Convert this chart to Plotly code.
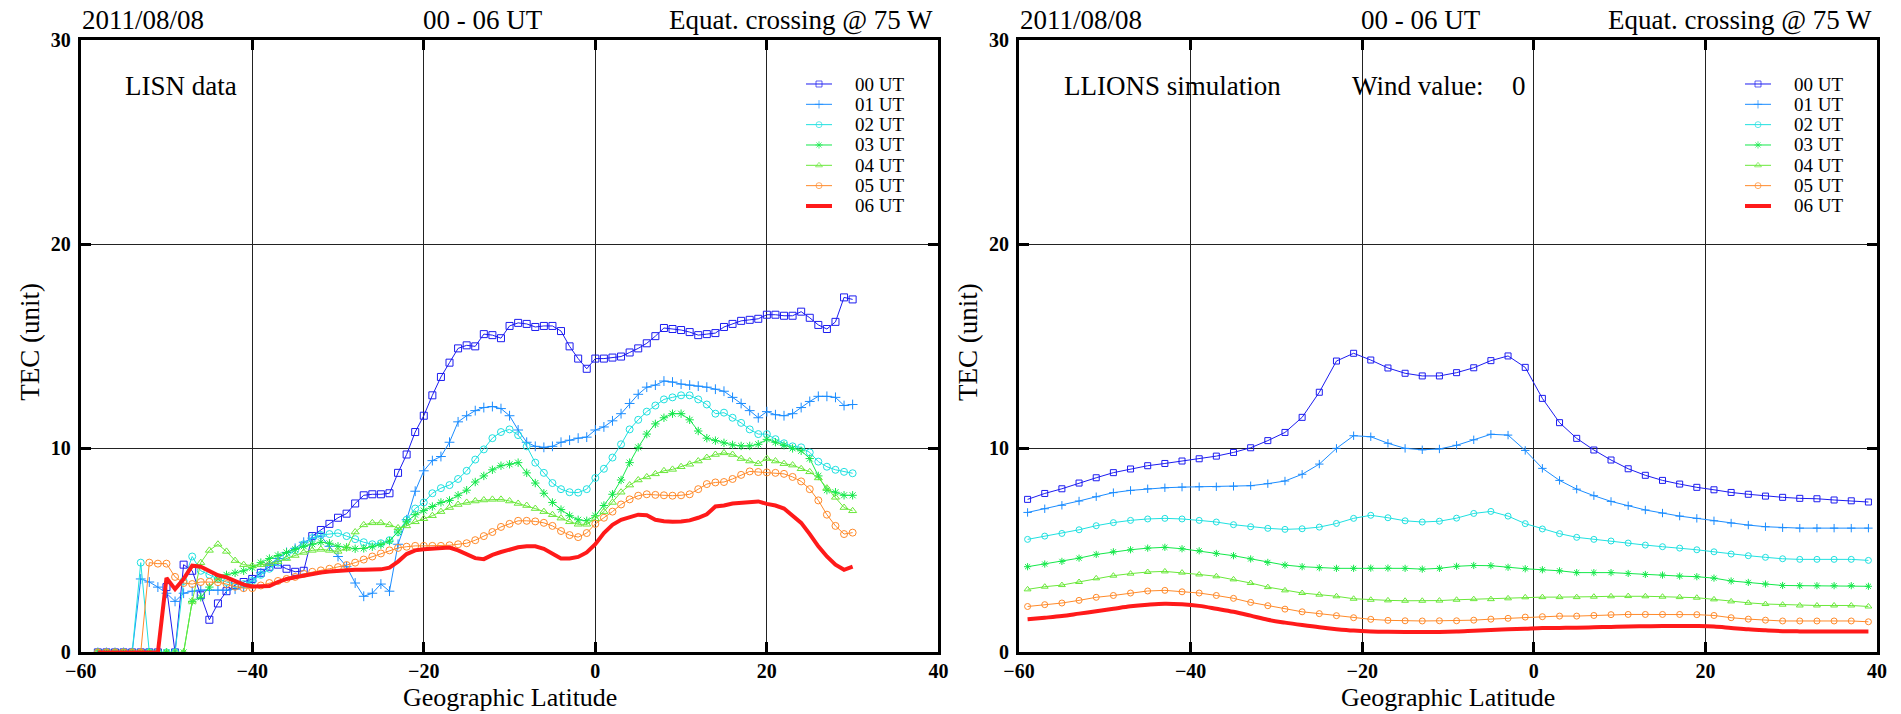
import plotly.graph_objects as go

# ---------------- canvas ----------------
W, H = 1901, 714
FONT = "Liberation Serif"

# ---------------- data: LISN observations (1 deg latitude steps) ----------------
lat_lisn = list(range(-58, 31))

lisn_00 = [0, 0, 0, 0, 0, 0, 0, 0, 3.2, 0,
           4.3, 4.0, 2.8, 1.6, 2.4, 3.0, 3.3, 3.45, 3.6, 3.9,
           4.2, 4.3, 4.1, 3.95, 4.0, 5.7, 6.0, 6.3, 6.6, 6.8,
           7.3, 7.7, 7.75, 7.75, 7.8, 8.8, 9.7, 10.8, 11.6, 12.6,
           13.5, 14.2, 14.9, 15.05, 15.0, 15.6, 15.55, 15.4, 16.0, 16.15,
           16.1, 15.95, 16.0, 16.0, 15.75, 15.0, 14.4, 13.9, 14.4, 14.4,
           14.45, 14.5, 14.7, 14.9, 15.15, 15.5, 15.9, 15.85, 15.8, 15.7,
           15.55, 15.6, 15.65, 15.95, 16.1, 16.25, 16.3, 16.35, 16.55, 16.55,
           16.5, 16.5, 16.7, 16.4, 16.05, 15.85, 16.2, 17.4, 17.3]

lisn_01 = [0, 0, 0, 0, 0, 3.6, 3.45, 3.2, 2.9, 2.5,
           2.9, 3.0, 3.05, 3.05, 3.05, 3.05, 3.1, 3.2, 3.5, 3.9,
           4.3, 4.6, 4.9, 5.1, 5.4, 5.6, 5.7, 5.2, 4.7, 4.2,
           3.4, 2.75, 2.9, 3.35, 3.0, 5.3, 6.5, 7.9, 8.9, 9.4,
           9.6, 10.3, 11.3, 11.6, 11.85, 12.0, 12.05, 11.95, 11.6, 10.9,
           10.3, 10.1, 10.05, 10.1, 10.3, 10.4, 10.5, 10.55, 10.9, 11.05,
           11.35, 11.7, 12.2, 12.65, 13.0, 13.1, 13.3, 13.25, 13.15, 13.1,
           13.05, 13.0, 12.9, 12.8, 12.5, 12.2, 11.85, 11.5, 11.8, 11.65,
           11.6, 11.7, 12.0, 12.3, 12.55, 12.55, 12.5, 12.1, 12.15]

lisn_02 = [0, 0, 0, 0, 0, 4.4, 0, 0, 0, 0,
           3.5, 4.7, 4.0, 3.8, 3.6, 3.45, 3.35, 3.35, 3.5, 3.8,
           4.1, 4.4, 4.7, 5.0, 5.3, 5.6, 5.75, 5.8, 5.85, 5.7,
           5.55, 5.4, 5.3, 5.35, 5.5, 5.9, 6.5, 7.05, 7.35, 7.8,
           8.05, 8.2, 8.5, 8.9, 9.45, 9.95, 10.5, 10.8, 10.93, 10.65,
           10.1, 9.3, 8.8, 8.3, 8.0, 7.85, 7.83, 8.0, 8.55, 9.0,
           9.55, 10.2, 10.93, 11.4, 11.8, 12.1, 12.4, 12.5, 12.6, 12.6,
           12.4, 12.15, 11.7, 11.75, 11.5, 11.25, 10.93, 10.7, 10.7, 10.45,
           10.25, 10.1, 10.05, 9.8, 9.35, 9.1, 8.95, 8.85, 8.78]

lisn_03 = [0, 0, 0, 0, 0, 0, 0, 0, 0, 0,
           0, 2.5, 2.7, 3.2, 3.6, 3.8, 3.9, 4.0, 4.15, 4.4,
           4.6, 4.75, 4.9, 5.05, 5.2, 5.3, 5.4, 5.35, 5.2, 5.15,
           5.08, 5.1, 5.18, 5.28, 5.45, 5.9, 6.4, 6.75, 6.95, 7.15,
           7.35, 7.45, 7.7, 7.95, 8.35, 8.65, 8.95, 9.15, 9.22, 9.3,
           8.8, 8.3, 7.8, 7.35, 7.0, 6.7, 6.5, 6.45, 6.7, 7.2,
           7.75, 8.45, 9.3, 10.05, 10.7, 11.2, 11.5, 11.7, 11.7, 11.4,
           10.85, 10.5, 10.38, 10.27, 10.17, 10.12, 10.12, 10.2, 10.44, 10.3,
           10.15, 10.0, 9.88, 9.5, 8.65, 7.95, 7.85, 7.7, 7.7]

lisn_04 = [0, 0, 0, 0, 0, 0, 0, 0, 0, 0,
           0, 2.5, 4.4, 5.0, 5.3, 4.95, 4.5, 4.3, 4.25, 4.3,
           4.35, 4.45, 4.6, 4.75, 4.9, 5.0, 5.05, 5.0, 4.95, 5.1,
           5.9, 6.25, 6.35, 6.35, 6.25, 6.1, 6.2, 6.4, 6.55, 6.7,
           6.9, 7.1, 7.25, 7.35, 7.42, 7.47, 7.5, 7.5, 7.42, 7.3,
           7.2, 7.05, 6.9, 6.75, 6.58, 6.4, 6.28, 6.28, 6.55, 6.9,
           7.35, 7.85, 8.2, 8.45, 8.6, 8.75, 8.9, 8.97, 9.1, 9.22,
           9.38, 9.55, 9.7, 9.78, 9.7, 9.5, 9.38, 9.25, 9.5, 9.38,
           9.25, 9.18, 9.0, 8.85, 8.55, 8.05, 7.6, 7.1, 6.94]

lisn_05 = [0, 0, 0, 0, 0, 0, 4.4, 4.35, 4.35, 3.7,
           3.4, 3.35, 3.45, 3.46, 3.44, 3.35, 3.22, 3.15, 3.15, 3.28,
           3.4, 3.5, 3.6, 3.7, 3.85, 3.95, 4.02, 4.1, 4.18, 4.28,
           4.4, 4.55, 4.7, 4.85, 5.0, 5.12, 5.18, 5.22, 5.22, 5.22,
           5.22, 5.25, 5.3, 5.35, 5.5, 5.7, 5.9, 6.15, 6.3, 6.45,
           6.45, 6.42, 6.35, 6.2, 5.95, 5.75, 5.65, 5.85, 6.3, 6.6,
           6.9, 7.25, 7.5, 7.68, 7.75, 7.72, 7.7, 7.68, 7.7, 7.75,
           8.0, 8.25, 8.33, 8.35, 8.5, 8.7, 8.87, 8.84, 8.82, 8.8,
           8.75, 8.6, 8.38, 8.0, 7.45, 6.75, 6.2, 5.8, 5.87]

lisn_06 = [0, 0, 0, 0, 0, 0, 0, 0, 3.65, 3.1,
           3.6, 4.25, 4.2, 4.0, 3.78, 3.68, 3.5, 3.32, 3.23, 3.22,
           3.25, 3.45, 3.6, 3.68, 3.77, 3.85, 3.92, 3.96, 4.0, 4.05,
           4.05, 4.05, 4.05, 4.07, 4.15, 4.45, 4.82, 5.0, 5.05, 5.08,
           5.1, 5.14, 5.0, 4.82, 4.62, 4.57, 4.78, 4.92, 5.05, 5.15,
           5.2, 5.2, 5.08, 4.85, 4.6, 4.6, 4.68, 4.9, 5.3, 5.85,
           6.25, 6.5, 6.65, 6.75, 6.72, 6.5, 6.43, 6.4, 6.42, 6.47,
           6.6, 6.77, 7.15, 7.2, 7.3, 7.33, 7.38, 7.4, 7.28, 7.2,
           7.05, 6.7, 6.35, 5.8, 5.2, 4.7, 4.3, 4.05, 4.2]

# ---------------- data: LLIONS simulation (2 deg latitude steps) ----------------
lat_sim = list(range(-59, 40, 2))

sim_00 = [7.50, 7.79, 8.02, 8.30, 8.56, 8.81, 8.99, 9.15, 9.26, 9.38,
          9.49, 9.62, 9.80, 10.03, 10.38, 10.78, 11.52, 12.75, 14.28, 14.66,
          14.33, 13.94, 13.68, 13.55, 13.55, 13.71, 13.95, 14.30, 14.53, 13.97,
          12.45, 11.26, 10.49, 9.92, 9.43, 9.00, 8.68, 8.43, 8.25, 8.09,
          7.97, 7.84, 7.75, 7.66, 7.60, 7.55, 7.53, 7.47, 7.43, 7.37]

sim_01 = [6.86, 7.04, 7.21, 7.42, 7.63, 7.83, 7.94, 8.02, 8.07, 8.10,
          8.12, 8.12, 8.14, 8.17, 8.27, 8.40, 8.73, 9.23, 10.00, 10.62,
          10.57, 10.25, 10.00, 9.93, 9.97, 10.15, 10.42, 10.69, 10.65, 9.90,
          9.02, 8.43, 8.00, 7.68, 7.40, 7.19, 6.98, 6.83, 6.68, 6.57,
          6.45, 6.34, 6.24, 6.16, 6.11, 6.09, 6.09, 6.09, 6.09, 6.09]

sim_02 = [5.54, 5.70, 5.83, 6.01, 6.21, 6.36, 6.47, 6.54, 6.57, 6.54,
          6.47, 6.39, 6.26, 6.16, 6.08, 6.03, 6.06, 6.14, 6.32, 6.57,
          6.72, 6.60, 6.45, 6.39, 6.43, 6.58, 6.81, 6.91, 6.68, 6.31,
          6.05, 5.82, 5.64, 5.54, 5.46, 5.36, 5.26, 5.18, 5.11, 5.03,
          4.93, 4.82, 4.74, 4.66, 4.59, 4.56, 4.56, 4.56, 4.56, 4.51]

sim_03 = [4.20, 4.33, 4.46, 4.62, 4.80, 4.93, 5.03, 5.11, 5.15, 5.08,
          4.98, 4.85, 4.74, 4.58, 4.41, 4.28, 4.20, 4.15, 4.12, 4.12,
          4.13, 4.13, 4.12, 4.08, 4.12, 4.22, 4.26, 4.25, 4.17, 4.10,
          4.05, 4.00, 3.91, 3.91, 3.91, 3.87, 3.82, 3.79, 3.74, 3.71,
          3.64, 3.50, 3.43, 3.35, 3.28, 3.27, 3.27, 3.27, 3.27, 3.24]

sim_04 = [3.09, 3.22, 3.30, 3.45, 3.63, 3.76, 3.86, 3.94, 3.97, 3.91,
          3.82, 3.73, 3.58, 3.40, 3.20, 3.04, 2.91, 2.83, 2.75, 2.63,
          2.58, 2.55, 2.53, 2.53, 2.54, 2.58, 2.61, 2.61, 2.65, 2.70,
          2.71, 2.71, 2.71, 2.73, 2.75, 2.76, 2.75, 2.73, 2.71, 2.68,
          2.60, 2.50, 2.43, 2.37, 2.34, 2.30, 2.30, 2.30, 2.30, 2.25]

sim_05 = [2.25, 2.34, 2.42, 2.55, 2.70, 2.79, 2.91, 3.01, 3.04, 2.97,
          2.91, 2.79, 2.65, 2.45, 2.29, 2.12, 1.99, 1.90, 1.80, 1.70,
          1.62, 1.57, 1.55, 1.54, 1.55, 1.55, 1.58, 1.63, 1.67, 1.73,
          1.75, 1.78, 1.78, 1.81, 1.85, 1.86, 1.86, 1.86, 1.86, 1.85,
          1.81, 1.70, 1.63, 1.58, 1.54, 1.54, 1.54, 1.54, 1.54, 1.50]

sim_06 = [1.63, 1.70, 1.78, 1.90, 2.02, 2.14, 2.26, 2.34, 2.39, 2.36,
          2.28, 2.14, 1.99, 1.80, 1.60, 1.46, 1.34, 1.23, 1.14, 1.07,
          1.03, 1.01, 1.00, 1.00, 1.00, 1.02, 1.06, 1.10, 1.13, 1.16,
          1.19, 1.20, 1.21, 1.23, 1.25, 1.27, 1.28, 1.29, 1.29, 1.29,
          1.27, 1.20, 1.13, 1.08, 1.04, 1.03, 1.03, 1.03, 1.03, 1.03]

# ---------------- labels / ticks ----------------
hours = ["00 UT", "01 UT", "02 UT", "03 UT", "04 UT", "05 UT", "06 UT"]
x_ticks = [-60, -40, -20, 0, 20, 40]
y_ticks = [0, 10, 20, 30]

# ---------------- styling ----------------
colors = ["#1c1cf0", "#1a8cff", "#1fe0e0", "#14e84a", "#6ae83a", "#ff8a2a", "#ff1a1a"]
symbols = ["square-open", "cross-thin-open", "circle-open", "asterisk-open",
           "triangle-up-open", "circle-open", None]


def px_x(p):
    return p / W


def px_y(p):
    return 1 - p / H


# plot frames in pixels
L_X0, L_X1 = 80.7, 938.4
R_X0, R_X1 = 1019.0, 1877.0
Y_TOP, Y_BOT = 40.3, 652.4

fig = go.Figure()

lisn_series = [lisn_00, lisn_01, lisn_02, lisn_03, lisn_04, lisn_05, lisn_06]
sim_series = [sim_00, sim_01, sim_02, sim_03, sim_04, sim_05, sim_06]


def add_series(xs, ys, i, xa, ya, msize, spline=False):
    c = colors[i]
    if symbols[i] is None:
        fig.add_trace(go.Scatter(
            x=xs, y=ys, mode="lines", xaxis=xa, yaxis=ya, showlegend=False,
            line=dict(color=c, width=4, shape="spline" if spline else "linear"),
            hoverinfo="skip"))
    else:
        fig.add_trace(go.Scatter(
            x=xs, y=ys, mode="lines+markers", xaxis=xa, yaxis=ya, showlegend=False,
            line=dict(color=c, width=1),
            marker=dict(symbol=symbols[i], size=msize, color=c,
                        line=dict(color=c, width=1)),
            hoverinfo="skip"))


for i, ys in enumerate(lisn_series):
    add_series(lat_lisn, ys, i, "x", "y", 7)
for i, ys in enumerate(sim_series):
    add_series(lat_sim, ys, i, "x2", "y2", 6, spline=True)

# legend sample glyphs (drawn on small helper axes)
for i in range(len(hours)):
    for xa, ya in (("x3", "y3"), ("x4", "y4")):
        c = colors[i]
        if symbols[i] is None:
            fig.add_trace(go.Scatter(x=[0, 1], y=[i, i], mode="lines", xaxis=xa, yaxis=ya,
                                     showlegend=False, hoverinfo="skip",
                                     line=dict(color=c, width=4)))
        else:
            fig.add_trace(go.Scatter(x=[0, 0.5, 1], y=[i, i, i], mode="lines+markers",
                                     xaxis=xa, yaxis=ya, showlegend=False, hoverinfo="skip",
                                     line=dict(color=c, width=1),
                                     marker=dict(symbol=symbols[i], size=[0, 6, 0], color=c,
                                                 line=dict(color=c, width=1))))

tickfont = dict(family=FONT, size=20, color="black", weight="bold")

common_x = dict(range=[-60, 40], tickvals=x_ticks, ticks="inside", ticklen=10, tickwidth=3,
                tickcolor="black", showline=True, linewidth=3, linecolor="black",
                mirror="ticks", showgrid=True, gridcolor="#222222", gridwidth=1,
                zeroline=False, tickfont=tickfont, ticklabelstandoff=-1, fixedrange=True,
                automargin=False)
common_y = dict(range=[0, 30], tickvals=y_ticks, ticks="inside", ticklen=10, tickwidth=3,
                tickcolor="black", showline=True, linewidth=3, linecolor="black",
                mirror="ticks", showgrid=True, gridcolor="#222222", gridwidth=1,
                zeroline=False, tickfont=tickfont, ticklabelstandoff=3, fixedrange=True,
                automargin=False, domain=[px_y(Y_BOT), px_y(Y_TOP)])

# legend helper axes: rows 20.3 px apart starting at y=84
ROW0, ROWH = 84.0, 20.33
leg_dom = [px_y(ROW0 + 6.5 * ROWH), px_y(ROW0 - 0.5 * ROWH)]
hidden = dict(visible=False, fixedrange=True)

fig.update_layout(
    width=W, height=H, autosize=False,
    margin=dict(l=0, r=0, t=0, b=0, pad=0, autoexpand=False),
    paper_bgcolor="white", plot_bgcolor="white", showlegend=False,
    xaxis=dict(common_x, domain=[px_x(L_X0), px_x(L_X1)], anchor="y"),
    yaxis=dict(common_y, anchor="x"),
    xaxis2=dict(common_x, domain=[px_x(R_X0), px_x(R_X1)], anchor="y2"),
    yaxis2=dict(common_y, anchor="x2"),
    xaxis3=dict(hidden, domain=[px_x(806), px_x(832)], range=[0, 1], anchor="y3"),
    yaxis3=dict(hidden, domain=leg_dom, range=[6.5, -0.5], anchor="x3"),
    xaxis4=dict(hidden, domain=[px_x(1745), px_x(1771)], range=[0, 1], anchor="y4"),
    yaxis4=dict(hidden, domain=leg_dom, range=[6.5, -0.5], anchor="x4"),
)

ann = []


def text(s, x, y, size, xanchor="left", yanchor="middle", angle=0):
    ann.append(dict(text=s, x=px_x(x), y=px_y(y), xref="paper", yref="paper",
                    xanchor=xanchor, yanchor=yanchor, showarrow=False, textangle=angle,
                    font=dict(family=FONT, size=size, color="black")))


for x0, x1 in ((L_X0, L_X1), (R_X0, R_X1)):
    text("2011/08/08", x0 - 1, 20, 27)
    text("00 - 06 UT", x0 + 402, 20, 27, xanchor="center")
    text("Equat. crossing @ 75 W", x1 - 3, 20, 27, xanchor="right")
    text("Geographic Latitude", (x0 + x1) / 2, 697, 26, xanchor="center")
    text("TEC (unit)", x0 - 51, 342, 27, xanchor="center", angle=-90)

text("LISN data", L_X0 + 42, 86, 27)
text("LLIONS simulation", R_X0 + 43, 86, 27)
text("Wind value:", 1350, 86, 27)
text("0", 1510, 86, 27)

for i, h in enumerate(hours):
    text(h, 853, ROW0 + i * ROWH, 19)
    text(h, 1792, ROW0 + i * ROWH, 19)

fig.update_layout(annotations=ann)

fig.write_html("out.html")
